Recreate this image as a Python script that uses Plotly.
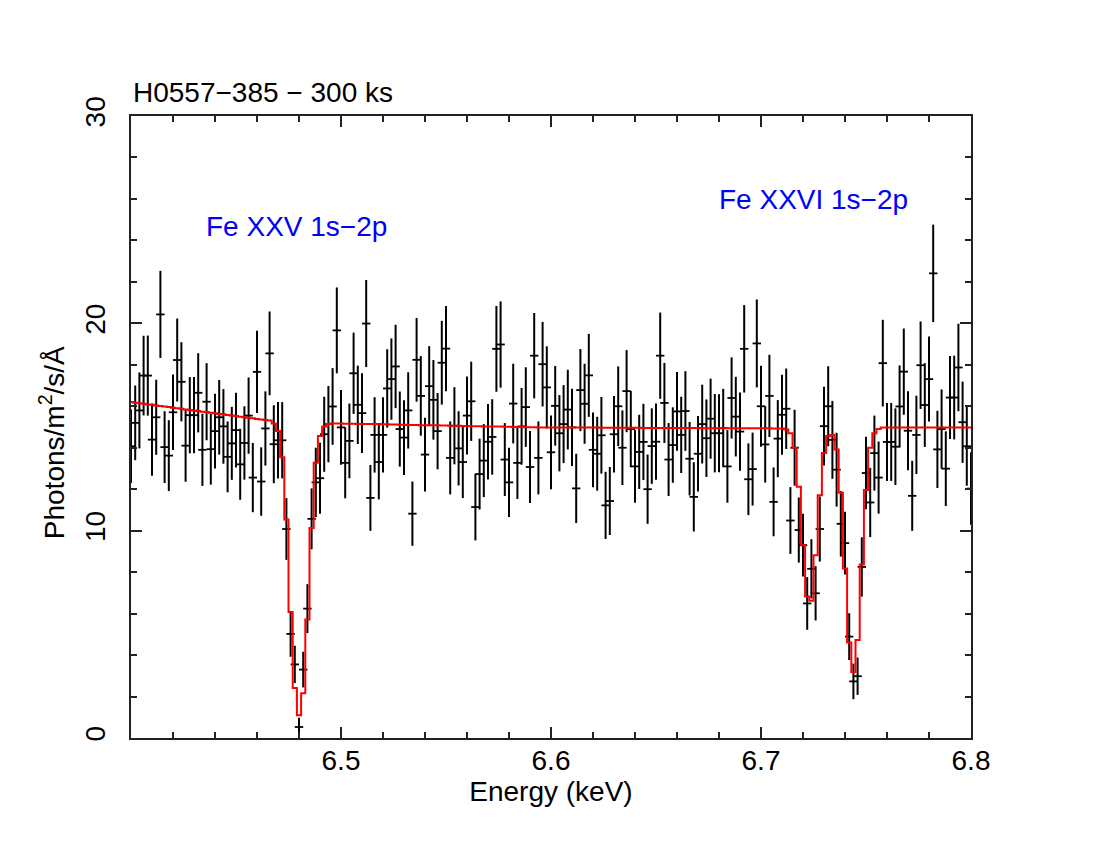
import plotly.graph_objects as go

# bin centres (keV)
energy = [
    6.400, 6.402, 6.404, 6.406, 6.408, 6.410, 6.412, 6.414, 6.416, 6.418,
    6.420, 6.422, 6.424, 6.426, 6.428, 6.430, 6.432, 6.434, 6.436, 6.438,
    6.440, 6.442, 6.444, 6.446, 6.448, 6.450, 6.452, 6.454, 6.456, 6.458,
    6.460, 6.462, 6.464, 6.466, 6.468, 6.470, 6.472, 6.474, 6.476, 6.478,
    6.480, 6.482, 6.484, 6.486, 6.488, 6.490, 6.492, 6.494, 6.496, 6.498,
    6.500, 6.502, 6.504, 6.506, 6.508, 6.510, 6.512, 6.514, 6.516, 6.518,
    6.520, 6.522, 6.524, 6.526, 6.528, 6.530, 6.532, 6.534, 6.536, 6.538,
    6.540, 6.542, 6.544, 6.546, 6.548, 6.550, 6.552, 6.554, 6.556, 6.558,
    6.560, 6.562, 6.564, 6.566, 6.568, 6.570, 6.572, 6.574, 6.576, 6.578,
    6.580, 6.582, 6.584, 6.586, 6.588, 6.590, 6.592, 6.594, 6.596, 6.598,
    6.600, 6.602, 6.604, 6.606, 6.608, 6.610, 6.612, 6.614, 6.616, 6.618,
    6.620, 6.622, 6.624, 6.626, 6.628, 6.630, 6.632, 6.634, 6.636, 6.638,
    6.640, 6.642, 6.644, 6.646, 6.648, 6.650, 6.652, 6.654, 6.656, 6.658,
    6.660, 6.662, 6.664, 6.666, 6.668, 6.670, 6.672, 6.674, 6.676, 6.678,
    6.680, 6.682, 6.684, 6.686, 6.688, 6.690, 6.692, 6.694, 6.696, 6.698,
    6.700, 6.702, 6.704, 6.706, 6.708, 6.710, 6.712, 6.714, 6.716, 6.718,
    6.720, 6.722, 6.724, 6.726, 6.728, 6.730, 6.732, 6.734, 6.736, 6.738,
    6.740, 6.742, 6.744, 6.746, 6.748, 6.750, 6.752, 6.754, 6.756, 6.758,
    6.760, 6.762, 6.764, 6.766, 6.768, 6.770, 6.772, 6.774, 6.776, 6.778,
    6.780, 6.782, 6.784, 6.786, 6.788, 6.790, 6.792, 6.794, 6.796, 6.798,
    6.800,
]

# measured flux (photons/m2/s/A)
flux = [
    14.07, 15.20, 15.80, 17.48, 17.48, 14.39, 15.47, 20.43, 14.03, 13.62,
    15.71, 18.23, 17.18, 14.10, 15.57, 15.57, 16.65, 13.90, 16.22, 13.93,
    14.80, 15.47, 15.03, 13.56, 14.21, 14.85, 13.20, 14.23, 15.55, 12.56,
    17.66, 12.37, 14.93, 18.55, 14.17, 14.36, 14.36, 10.08, 5.02, 3.55,
    0.53, 3.30, 6.24, 10.57, 12.33, 12.53, 14.65, 15.14, 15.99, 19.66,
    14.98, 13.27, 14.33, 17.59, 16.07, 15.67, 19.99, 11.58, 14.62, 13.31,
    14.62, 16.86, 17.31, 17.92, 14.90, 14.49, 15.80, 10.82, 18.24, 16.50,
    13.67, 16.97, 16.31, 14.80, 18.10, 18.78, 13.51, 15.06, 13.97, 13.31,
    15.55, 16.24, 11.14, 12.73, 13.38, 14.29, 14.52, 18.77, 18.98, 13.43,
    12.33, 16.13, 13.27, 15.03, 15.96, 13.07, 18.44, 13.51, 18.03, 16.91,
    13.78, 16.02, 14.70, 15.14, 15.84, 14.98, 12.04, 16.78, 16.12, 17.49,
    13.90, 13.71, 14.60, 11.22, 11.43, 14.65, 16.00, 14.00, 16.73, 14.90,
    13.10, 13.80, 14.28, 12.00, 14.08, 14.29, 18.44, 16.16, 13.43, 14.13,
    15.75, 14.62, 15.77, 13.47, 11.63, 13.71, 15.14, 14.46, 15.40, 14.70,
    14.70, 14.95, 13.10, 16.40, 15.50, 14.78, 18.77, 12.48, 12.97, 19.03,
    16.00, 14.16, 16.50, 11.39, 14.44, 15.59, 15.88, 10.49, 14.00, 10.03,
    9.30, 6.49, 8.16, 6.98, 10.08, 15.04, 16.00, 14.38, 12.94, 10.33,
    9.40, 4.89, 2.73, 2.98, 8.25, 12.78, 11.36, 13.74, 12.56, 18.08,
    14.28, 14.28, 14.05, 15.99, 17.67, 14.82, 11.68, 14.62, 17.98, 16.06,
    17.31, 22.41, 13.92, 14.90, 12.99, 16.42, 16.42, 17.87, 15.23, 14.07,
    12.03,
]

# 1-sigma errors
flux_err = [
    1.77, 1.80, 1.83, 1.92, 1.93, 1.74, 1.81, 2.10, 1.73, 1.71,
    1.82, 2.00, 1.91, 1.74, 1.84, 1.84, 1.91, 1.74, 1.86, 1.71,
    1.80, 1.80, 1.80, 1.71, 1.76, 1.80, 1.71, 1.77, 1.84, 1.67,
    1.98, 1.65, 1.79, 2.02, 1.88, 1.84, 1.84, 1.49, 1.10, 0.90,
    0.45, 0.86, 1.18, 1.47, 1.67, 1.71, 1.81, 1.84, 1.85, 2.07,
    1.80, 1.71, 1.80, 1.96, 1.89, 1.92, 2.10, 1.59, 1.82, 1.80,
    1.82, 1.89, 1.96, 2.01, 1.81, 1.80, 1.84, 1.55, 2.02, 1.92,
    1.78, 1.93, 1.92, 1.84, 2.02, 2.05, 1.76, 1.86, 1.79, 1.74,
    1.88, 1.91, 1.61, 1.71, 1.76, 1.82, 1.82, 2.07, 2.08, 1.76,
    1.67, 1.92, 1.74, 1.85, 1.92, 1.74, 2.06, 1.76, 2.04, 1.98,
    1.78, 1.92, 1.84, 1.88, 1.92, 1.86, 1.67, 1.98, 1.93, 2.00,
    1.80, 1.78, 1.85, 1.62, 1.64, 1.84, 1.92, 1.80, 1.98, 1.84,
    1.75, 1.79, 1.84, 1.67, 1.82, 1.84, 2.08, 1.93, 1.76, 1.82,
    1.90, 1.84, 1.92, 1.77, 1.67, 1.82, 1.90, 1.87, 1.93, 1.89,
    1.88, 1.89, 1.75, 1.96, 1.92, 1.89, 2.11, 1.73, 1.76, 2.12,
    1.95, 1.84, 1.98, 1.66, 1.86, 1.93, 1.94, 1.61, 1.83, 1.57,
    1.51, 1.27, 1.43, 1.31, 1.57, 1.90, 1.93, 1.88, 1.78, 1.58,
    1.51, 1.13, 0.86, 0.90, 1.43, 1.75, 1.67, 1.81, 1.74, 2.09,
    1.88, 1.88, 1.85, 1.98, 2.08, 1.90, 1.69, 1.89, 2.11, 2.02,
    2.05, 2.35, 1.86, 1.91, 1.80, 2.00, 2.02, 2.11, 1.96, 1.90,
    1.75,
]

# best-fit model, one value per bin
model = [
    16.20, 16.17, 16.15, 16.12, 16.09, 16.07, 16.04, 16.01, 15.99, 15.96,
    15.93, 15.90, 15.88, 15.85, 15.82, 15.80, 15.77, 15.74, 15.72, 15.69,
    15.66, 15.63, 15.61, 15.58, 15.55, 15.53, 15.50, 15.47, 15.45, 15.42,
    15.39, 15.36, 15.34, 15.31, 15.17, 14.81, 13.54, 10.54, 6.08, 2.41,
    1.10, 2.16, 5.71, 10.13, 13.27, 14.57, 15.03, 15.14, 15.17, 15.17,
    15.17, 15.16, 15.16, 15.16, 15.15, 15.15, 15.15, 15.14, 15.14, 15.14,
    15.13, 15.13, 15.12, 15.12, 15.11, 15.11, 15.10, 15.10, 15.10, 15.09,
    15.09, 15.08, 15.08, 15.08, 15.07, 15.07, 15.06, 15.06, 15.06, 15.05,
    15.05, 15.04, 15.04, 15.04, 15.03, 15.03, 15.02, 15.02, 15.02, 15.01,
    15.01, 15.00, 15.00, 15.00, 14.99, 14.99, 14.99, 14.98, 14.98, 14.98,
    14.98, 14.98, 14.98, 14.98, 14.97, 14.97, 14.97, 14.97, 14.97, 14.97,
    14.97, 14.97, 14.96, 14.96, 14.96, 14.96, 14.96, 14.96, 14.96, 14.96,
    14.96, 14.96, 14.95, 14.95, 14.95, 14.95, 14.95, 14.95, 14.95, 14.95,
    14.95, 14.95, 14.95, 14.95, 14.95, 14.95, 14.94, 14.94, 14.94, 14.94,
    14.94, 14.94, 14.94, 14.94, 14.94, 14.94, 14.94, 14.94, 14.94, 14.94,
    14.94, 14.94, 14.94, 14.93, 14.93, 14.93, 14.88, 14.70, 14.00, 12.12,
    9.30, 6.82, 6.62, 8.81, 11.71, 13.75, 14.57, 14.62, 13.92, 11.83,
    8.17, 4.61, 3.18, 4.73, 8.37, 11.96, 14.00, 14.70, 14.90, 14.98,
    14.98, 14.98, 14.98, 14.98, 14.98, 14.98, 14.98, 14.98, 14.98, 14.98,
    14.98, 14.98, 14.98, 14.98, 14.98, 14.98, 14.98, 14.98, 14.98, 14.98,
    14.98,
]

line_labels = ["Fe XXV 1s\u22122p", "Fe XXVI 1s\u22122p"]
line_label_x = [6.4786, 6.7252]
line_label_y = [24.68, 25.95]

x_ticks = [6.5, 6.6, 6.7, 6.8]
y_ticks = [0, 10, 20, 30]

FONT = "Liberation Sans, Arial, Helvetica, sans-serif"
FS = 28
AX = "#222222"

fig = go.Figure()

# data with error bars
fig.add_trace(go.Scatter(
    x=energy,
    y=flux,
    mode="markers",
    marker=dict(symbol="line-ew", size=6, color="black",
                line=dict(width=1.8, color="black")),
    error_y=dict(type="data", array=flux_err, visible=True,
                 color="black", thickness=2, width=0),
    showlegend=False,
))

# model as step histogram
fig.add_trace(go.Scatter(
    x=energy,
    y=model,
    mode="lines",
    line=dict(color="red", width=2, shape="hvh"),
    showlegend=False,
))

for txt, lx, ly in zip(line_labels, line_label_x, line_label_y):
    fig.add_annotation(x=lx, y=ly, text=txt, showarrow=False,
                       font=dict(color="blue", size=FS, family=FONT),
                       xanchor="center", yanchor="middle")

fig.add_annotation(x=0, y=1, xref="paper", yref="paper",
                   text="H0557\u2212385 \u2212 300 ks", showarrow=False,
                   xanchor="left", yanchor="bottom", yshift=6,
                   font=dict(color="black", size=FS, family=FONT))

# y label sits a bit below the axis middle in the original, so place it by hand
fig.add_annotation(x=-0.094, y=0.474, xref="paper", yref="paper",
                   text="Photons/m<sup>2</sup>/s/\u00c5", showarrow=False,
                   textangle=-90, xanchor="center", yanchor="middle",
                   font=dict(color="black", size=FS, family=FONT))

fig.update_layout(
    width=1100,
    height=850,
    paper_bgcolor="white",
    plot_bgcolor="white",
    # page body adds a few px of offset, so margins are shifted to compensate
    margin=dict(l=123, r=137, t=108, b=120),
    font=dict(family=FONT, size=FS, color="black"),
    xaxis=dict(
        range=[6.4, 6.8],
        tickmode="array",
        tickvals=x_ticks,
        ticktext=[f"{v:.1f}" for v in x_ticks],
        tickfont=dict(size=FS),
        ticks="inside",
        ticklen=11,
        tickwidth=1.5,
        tickcolor=AX,
        ticklabelstandoff=-4,
        minor=dict(dtick=0.02, tick0=6.4, ticks="inside", ticklen=6,
                   tickwidth=1.5, tickcolor=AX),
        showline=True,
        linecolor=AX,
        linewidth=2,
        mirror="allticks",
        showgrid=False,
        zeroline=False,
        title=dict(text="Energy (keV)", standoff=5, font=dict(size=FS)),
    ),
    yaxis=dict(
        range=[0, 30],
        tickmode="array",
        tickvals=y_ticks,
        ticktext=[str(v) for v in y_ticks],
        tickfont=dict(size=FS),
        tickangle=-90,
        ticks="inside",
        ticklen=11,
        tickwidth=1.5,
        tickcolor=AX,
        ticklabelstandoff=13,
        minor=dict(dtick=2, tick0=0, ticks="inside", ticklen=6,
                   tickwidth=1.5, tickcolor=AX),
        showline=True,
        linecolor=AX,
        linewidth=2,
        mirror="allticks",
        showgrid=False,
        zeroline=False,
    ),
)

fig.write_html("out.html")
